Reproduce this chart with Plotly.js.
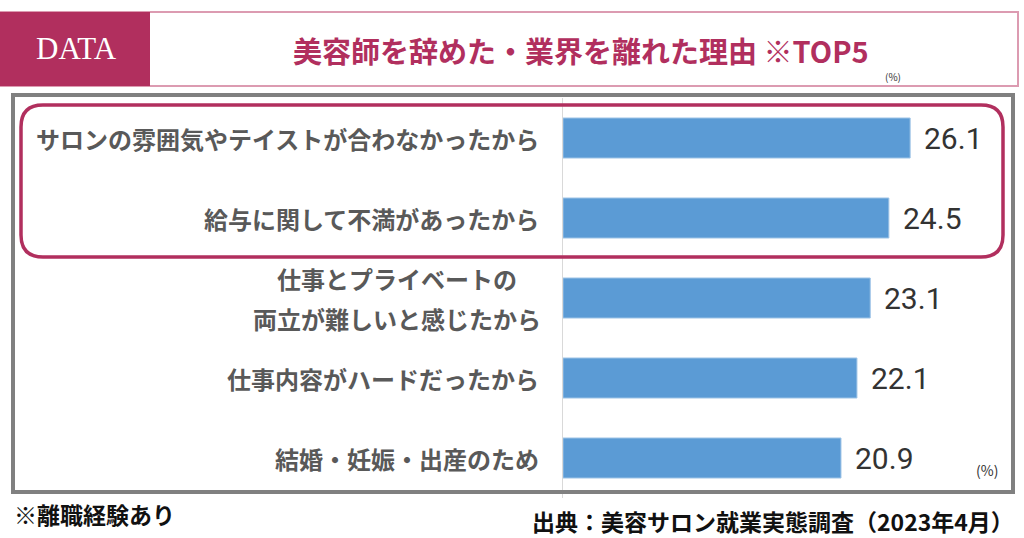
<!DOCTYPE html>
<html><head><meta charset="utf-8">
<script src="https://cdn.plot.ly/plotly-3.0.1.min.js"></script>
<style>html,body{margin:0;padding:0;background:#fff}#chart{width:1024px;height:538px}</style>
</head><body><div id="chart"></div>
<script>
var categories = ["サロンの雰囲気やテイストが合わなかったから","給与に関して不満があったから","仕事とプライベートの<br>両立が難しいと感じたから","仕事内容がハードだったから","結婚・妊娠・出産のため"];
var values = [26.1, 24.5, 23.1, 22.1, 20.9];
var titleText = "美容師を辞めた・業界を離れた理由 ※TOP5";
var badgeText = "DATA";
var unitText = "(%)";
var noteText = "※離職経験あり";
var sourceText = "出典：美容サロン就業実態調査（2023年4月）";

var W = 1024, H = 538, ML = 563, MR = 14, MT = 98, MB = 40;
var PW = W - ML - MR, PH = H - MT - MB;
function px(x){ return (x - ML) / PW; }
function py(y){ return (H - MB - y) / PH; }
var MAG = "#b12f5e", JP = "'Noto Sans CJK JP', 'Noto Sans', sans-serif";
var LABEL_SIZE = 24;

function roundRect(x0,y0,x1,y1,r){
  var p = [];
  p.push("M"+px(x0+r)+","+py(y0));
  p.push("L"+px(x1-r)+","+py(y0));
  p.push("Q"+px(x1)+","+py(y0)+" "+px(x1)+","+py(y0+r));
  p.push("L"+px(x1)+","+py(y1-r));
  p.push("Q"+px(x1)+","+py(y1)+" "+px(x1-r)+","+py(y1));
  p.push("L"+px(x0+r)+","+py(y1));
  p.push("Q"+px(x0)+","+py(y1)+" "+px(x0)+","+py(y1-r));
  p.push("L"+px(x0)+","+py(y0+r));
  p.push("Q"+px(x0)+","+py(y0)+" "+px(x0+r)+","+py(y0));
  p.push("Z");
  return p.join(" ");
}

var annotations = [];
categories.forEach(function(c,i){
  var lines = c.split("<br>");
  var n = lines.length, gap = 40;
  var maxLen = Math.max.apply(null, lines.map(function(s){ return s.length; }));
  lines.forEach(function(line, k){
    var a = {xref:"x", yref:"y", x:0, y:c, yshift:((n-1)/2 - k)*gap,
      yanchor:"middle", text:line, showarrow:false,
      font:{family:JP, size:LABEL_SIZE, color:"#595959", weight:"bold"}};
    if (n > 1) { a.xanchor = "center"; a.xshift = -22 - maxLen*LABEL_SIZE/2; }
    else { a.xanchor = "right"; a.xshift = -22; }
    annotations.push(a);
  });
  annotations.push({xref:"x", yref:"y", x:values[i], y:c, xshift:12, xanchor:"left", yanchor:"middle",
    text:values[i].toFixed(1), showarrow:false,
    font:{family:"Roboto, 'Liberation Sans', sans-serif", size:30, color:"#333333"}});
});
annotations.push({xref:"paper", yref:"paper", x:px(76), y:py(49), xanchor:"center", yanchor:"middle",
  text:badgeText, showarrow:false, font:{family:"'Liberation Serif', serif", size:31, color:"#ffffff"}});
annotations.push({xref:"paper", yref:"paper", x:px(581), y:py(50), xanchor:"center", yanchor:"middle",
  text:titleText, showarrow:false, font:{family:JP, size:29, color:MAG, weight:"bold"}});
annotations.push({xref:"paper", yref:"paper", x:px(893), y:py(76), xanchor:"center", yanchor:"middle",
  text:unitText, showarrow:false, font:{family:JP, size:10, color:"#333"}});
annotations.push({xref:"paper", yref:"paper", x:px(987), y:py(470), xanchor:"center", yanchor:"middle",
  text:unitText, showarrow:false, font:{family:JP, size:14, color:"#333"}});
annotations.push({xref:"paper", yref:"paper", x:px(12), y:py(514), xanchor:"left", yanchor:"middle",
  text:noteText, showarrow:false, font:{family:JP, size:23, color:"#111", weight:"bold"}});
annotations.push({xref:"paper", yref:"paper", x:px(1016), y:py(521), xanchor:"right", yanchor:"middle",
  text:sourceText, showarrow:false, font:{family:JP, size:23, color:"#111", weight:"bold"}});

var shapes = [
  {type:"rect", xref:"paper", yref:"paper", x0:px(1), y0:py(12), x1:px(1018), y1:py(86), line:{color:"#dc9bb1", width:2}, fillcolor:"rgba(0,0,0,0)", layer:"below"},
  {type:"rect", xref:"paper", yref:"paper", x0:px(0), y0:py(12), x1:px(150), y1:py(86), line:{width:0}, fillcolor:MAG, layer:"below"},
  {type:"rect", xref:"paper", yref:"paper", x0:px(13), y0:py(95), x1:px(1013), y1:py(492), line:{color:"#808080", width:4}, fillcolor:"rgba(0,0,0,0)", layer:"above"},
  {type:"path", xref:"paper", yref:"paper", path:roundRect(21,105,1003,257,22), line:{color:MAG, width:3.5}, fillcolor:"rgba(0,0,0,0)", layer:"above"}
];

var trace = {type:"bar", orientation:"h", x:values, y:categories, width:0.5,
  marker:{color:"#5b9bd5", line:{color:"#9dc3e6", width:1}}, hoverinfo:"skip"};

var layout = {
  width:W, height:H, margin:{l:ML, r:MR, t:MT, b:MB},
  paper_bgcolor:"#fff", plot_bgcolor:"#fff", showlegend:false,
  xaxis:{range:[0, PW/13.3], showgrid:false, zeroline:false, showticklabels:false, ticks:"", fixedrange:true},
  yaxis:{type:"category", categoryorder:"array", categoryarray:categories, autorange:"reversed",
    showticklabels:false, ticks:"", showgrid:false, zeroline:false,
    showline:true, linecolor:"#d9d9d9", linewidth:1},
  shapes:shapes, annotations:annotations
};
Plotly.newPlot("chart",[trace],layout,{staticPlot:true});
</script></body></html>
